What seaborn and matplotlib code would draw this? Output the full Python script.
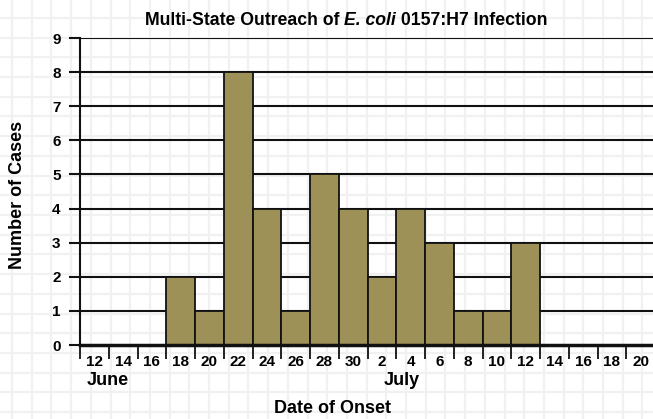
import matplotlib
matplotlib.use("Agg")
import matplotlib.pyplot as plt
import seaborn as sns
import pandas as pd
import numpy as np

dates = ["12", "14", "16", "18", "20", "22", "24", "26", "28", "30",
         "2", "4", "6", "8", "10", "12", "14", "16", "18", "20"]
months = ["June"] * 10 + ["July"] * 10
cases = [0, 0, 0, 2, 1, 8, 4, 1, 5, 4, 2, 4, 3, 1, 1, 3, 0, 0, 0, 0]
y_ticks = [0, 1, 2, 3, 4, 5, 6, 7, 8, 9]

sns.set_theme(style="white")
FONT = ["Liberation Sans Narrow", "Liberation Sans", "DejaVu Sans"]
plt.rcParams["font.family"] = FONT
plt.rcParams["font.weight"] = "bold"
for k in ["text.color", "axes.labelcolor", "xtick.color", "ytick.color"]:
    plt.rcParams[k] = "black"

W, H = 653, 419
fig = plt.figure(figsize=(W / 100, H / 100), dpi=100)
fig.patch.set_facecolor("white")

# graph-paper background
bg = fig.add_axes([0, 0, 1, 1], zorder=-10)
bg.set_xlim(0, W)
bg.set_ylim(H, 0)
for gx in np.arange(12, W, 19.7):
    bg.axvline(gx, color="#f1f1f1", lw=1.6)
for gy in np.arange(18, H, 19.7):
    bg.axhline(gy, color="#f1f1f1", lw=1.6)
bg.axis("off")

ax = fig.add_axes([80 / W, 74 / H, 575 / W, 307 / H])
ax.patch.set_alpha(0)

df = pd.DataFrame({"pos": [str(i) for i in range(len(dates))], "cases": cases})
for yv in y_ticks[1:]:
    ax.axhline(yv, color="#111111", lw=1.5, zorder=1)
sns.barplot(data=df, x="pos", y="cases", width=1.0, color="#9d9157",
            saturation=1, edgecolor="#111111", linewidth=1.3, ax=ax, zorder=2)

ax.set_xlim(-0.5, len(dates) - 0.5)
ax.set_ylim(0, 9)
ax.set_xlabel("")
ax.set_ylabel("")

# ticks at bin edges, labels at bin centers
ax.set_xticks(np.arange(len(dates)) - 0.5)
ax.set_xticklabels([])
ax.set_xticks(np.arange(len(dates)), minor=True)
ax.set_xticklabels(dates, minor=True, fontsize=11, fontweight="bold",
                   color="black")
ax.tick_params(axis="x", which="major", direction="out", length=10, width=1.3,
               color="#111111", bottom=True)
ax.tick_params(axis="x", which="minor", length=0, pad=7, bottom=True)

ax.set_yticks(y_ticks)
ax.set_yticklabels([str(v) for v in y_ticks], fontsize=11, fontweight="bold",
                   color="black")
ax.tick_params(axis="y", direction="out", length=8, width=1.5,
               color="#111111", left=True, pad=6)

for s in ["top", "right"]:
    ax.spines[s].set_visible(False)
ax.spines["left"].set_color("#111111")
ax.spines["left"].set_linewidth(1.5)
ax.spines["bottom"].set_color("#111111")
ax.spines["bottom"].set_linewidth(2.5)
ax.spines["bottom"].set_zorder(5)

# month labels
first_june = months.index("June")
first_july = months.index("July")
ax.text(first_june - 0.25, -1.03, "June", fontsize=13, fontweight="bold",
        ha="left", va="center", transform=ax.transData, clip_on=False,
        color="black")
ax.text(first_july + 0.68, -1.03, "July", fontsize=13, fontweight="bold",
        ha="center", va="center", transform=ax.transData, clip_on=False,
        color="black")

fig.text(333 / W, 1 - 408 / H, "Date of Onset", fontsize=13, fontweight="bold",
         ha="center", va="center", color="black")
fig.text(18 / W, 1 - 195 / H, "Number of Cases", fontsize=13, fontweight="bold",
         ha="center", va="center", rotation=90, color="black")

# title with italic part
TS = 12.7
t1 = fig.text(145 / W, 1 - 25 / H, "Multi-State Outreach of ", fontsize=TS,
              fontweight="bold", ha="left", va="baseline", color="black")
t2 = fig.text(0, 0, "E. coli", fontsize=TS, fontweight="bold", style="italic",
              ha="left", va="baseline", color="black")
t3 = fig.text(0, 0, " 0157:H7 Infection", fontsize=TS, fontweight="bold",
              ha="left", va="baseline", color="black")
fig.canvas.draw()
r = fig.canvas.get_renderer()
bb1 = t1.get_window_extent(r)
x_base, y_base = t1.get_transform().transform(t1.get_position())
t2.set_position(fig.transFigure.inverted().transform((bb1.x1, y_base)))
fig.canvas.draw()
bb2 = t2.get_window_extent(r)
t3.set_position(fig.transFigure.inverted().transform((bb2.x1, y_base)))

fig.savefig("out.png", dpi=100, facecolor="white")
